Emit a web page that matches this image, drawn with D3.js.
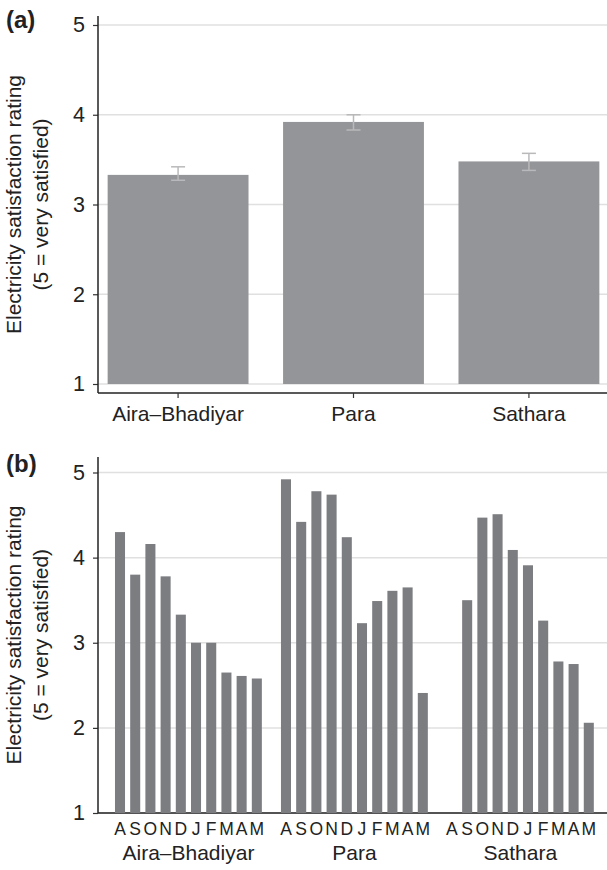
<!DOCTYPE html>
<html>
<head>
<meta charset="utf-8">
<script src="https://cdn.jsdelivr.net/npm/d3@7"></script>
<style>
  body { margin: 0; background: #fff; }
  text { font-family: "Liberation Sans", Arial, sans-serif; fill: #222; }
</style>
</head>
<body>
<svg id="chart" width="607" height="870"></svg>
<script>
// Site names (x categories)
const sites = ["Aira\u2013Bhadiyar", "Para", "Sathara"];

// Panel (a): mean rating per site, with error bar ends
const meanRating = [3.33, 3.92, 3.48];
const errLow = [3.27, 3.83, 3.38];
const errHigh = [3.42, 4.00, 3.57];

// Panel (b): monthly rating, Aug to May
const months = ["A", "S", "O", "N", "D", "J", "F", "M", "A", "M"];
const monthlyAira = [4.30, 3.80, 4.16, 3.78, 3.33, 3.00, 3.00, 2.65, 2.61, 2.58];
const monthlyPara = [4.92, 4.42, 4.78, 4.74, 4.24, 3.23, 3.49, 3.61, 3.65, 2.41];
const monthlySathara = [null, 3.50, 4.47, 4.51, 4.09, 3.91, 3.26, 2.78, 2.75, 2.06];

const yTicks = [1, 2, 3, 4, 5];

const svg = d3.select("#chart");
const axisLeftX = 98;
const rightEdge = 607;

// y axis title, two lines, rotated
function yTitle(cy) {
    const t = svg.append("text")
        .attr("transform", "translate(0," + cy + ") rotate(-90)")
        .attr("text-anchor", "middle")
        .attr("font-size", "21px");
    t.append("tspan").attr("x", 0).attr("y", 20.5).text("Electricity satisfaction rating");
    t.append("tspan").attr("x", 0).attr("y", 48).text("(5 = very satisfied)");
}

// grid + y axis for one panel
function yAxis(y, top, bottom) {
    svg.append("g").selectAll("line")
        .data(yTicks)
        .enter().append("line")
        .attr("x1", axisLeftX).attr("x2", rightEdge)
        .attr("y1", d => y(d)).attr("y2", d => y(d))
        .attr("stroke", "#e0e0e0")
        .attr("stroke-width", 1.5);

    const g = svg.append("g")
        .attr("transform", "translate(" + axisLeftX + ",0)")
        .call(d3.axisLeft(y).tickValues(yTicks).tickSize(5).tickPadding(8).tickFormat(d3.format("d")));
    g.select(".domain").remove();
    g.selectAll(".tick line").attr("stroke", "#333").attr("stroke-width", 1.2);
    g.selectAll(".tick text")
        .attr("font-size", "21.5px")
        .attr("font-family", "Liberation Sans, Arial, sans-serif")
        .attr("fill", "#222");

    svg.append("line")
        .attr("x1", axisLeftX).attr("x2", axisLeftX)
        .attr("y1", top).attr("y2", bottom)
        .attr("stroke", "#222").attr("stroke-width", 1.5);
    svg.append("line")
        .attr("x1", axisLeftX).attr("x2", rightEdge)
        .attr("y1", bottom).attr("y2", bottom)
        .attr("stroke", "#222").attr("stroke-width", 1.5);
}

// ---------- Panel (a) ----------
const yA = d3.scaleLinear().domain([1, 5]).range([384, 25]);
const xA = d3.scaleBand().domain(sites).range([98, 609]).paddingInner(0.197).paddingOuter(0.055);

yAxis(yA, 16, 393);

svg.append("g").selectAll("rect")
    .data(sites)
    .enter().append("rect")
    .attr("x", d => xA(d))
    .attr("width", xA.bandwidth())
    .attr("y", (d, i) => yA(meanRating[i]))
    .attr("height", (d, i) => yA(1) - yA(meanRating[i]))
    .attr("fill", "#949599");

// error bars
const err = svg.append("g").attr("stroke", "#b9b9bb").attr("stroke-width", 1.5);
sites.forEach(function(s, i) {
    const cx = xA(s) + xA.bandwidth() / 2;
    err.append("line").attr("x1", cx).attr("x2", cx).attr("y1", yA(errLow[i])).attr("y2", yA(errHigh[i]));
    err.append("line").attr("x1", cx - 7).attr("x2", cx + 7).attr("y1", yA(errLow[i])).attr("y2", yA(errLow[i]));
    err.append("line").attr("x1", cx - 7).attr("x2", cx + 7).attr("y1", yA(errHigh[i])).attr("y2", yA(errHigh[i]));
});

// bottom ticks and site labels
sites.forEach(function(s) {
    const cx = xA(s) + xA.bandwidth() / 2;
    svg.append("line").attr("x1", cx).attr("x2", cx).attr("y1", 393).attr("y2", 398)
        .attr("stroke", "#333").attr("stroke-width", 1.2);
    svg.append("text").attr("x", cx).attr("y", 421)
        .attr("text-anchor", "middle").attr("font-size", "21px").text(s);
});

yTitle(204.5);
svg.append("text").attr("x", 6).attr("y", 28)
    .attr("font-size", "24px").attr("font-weight", "bold").text("(a)");

// ---------- Panel (b) ----------
const yB = d3.scaleLinear().domain([1, 5]).range([813, 472.5]);
const xGroup = d3.scaleBand().domain(sites).range([112.4, 596.4]).paddingInner(0.084).paddingOuter(0);
const xMonth = d3.scaleBand().domain(d3.range(months.length)).range([0, xGroup.bandwidth()])
    .paddingInner(0.34).paddingOuter(0.17);

yAxis(yB, 457, 813);

const monthly = [monthlyAira, monthlyPara, monthlySathara];
const groups = svg.append("g").selectAll(".group")
    .data(sites)
    .enter().append("g")
    .attr("class", "group")
    .attr("transform", d => "translate(" + xGroup(d) + ",0)");

groups.selectAll("rect")
    .data((d, i) => monthly[i].map((v, j) => ({ v: v, j: j })).filter(o => o.v !== null))
    .enter().append("rect")
    .attr("x", d => xMonth(d.j))
    .attr("width", xMonth.bandwidth())
    .attr("y", d => yB(d.v))
    .attr("height", d => yB(1) - yB(d.v))
    .attr("fill", "#7c7d81");

groups.selectAll(".month")
    .data(months.map((m, j) => ({ m: m, j: j })))
    .enter().append("text")
    .attr("class", "month")
    .attr("x", d => xMonth(d.j) + xMonth.bandwidth() / 2)
    .attr("y", 835)
    .attr("text-anchor", "middle")
    .attr("font-size", "17.5px")
    .text(d => d.m);

groups.append("text")
    .attr("x", xGroup.bandwidth() / 2)
    .attr("y", 860)
    .attr("text-anchor", "middle")
    .attr("font-size", "21px")
    .text(d => d);

yTitle(635);
svg.append("text").attr("x", 6).attr("y", 472)
    .attr("font-size", "24px").attr("font-weight", "bold").text("(b)");
</script>
</body>
</html>
